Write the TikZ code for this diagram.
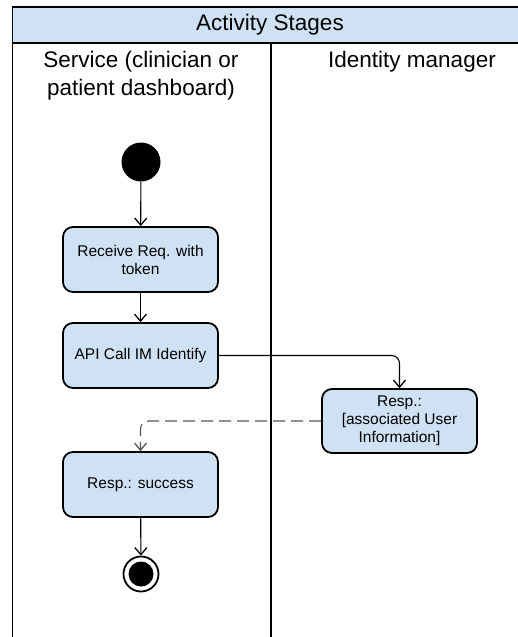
\documentclass[tikz,border=0pt]{standalone}
\usepackage{fontspec}
\setmainfont{Liberation Sans}
\usetikzlibrary{arrows.meta}
\definecolor{boxblue}{HTML}{CFE2F3}
\definecolor{dashgray}{HTML}{555555}
\tikzset{
  actbox/.style={draw=black, line width=1.8pt, fill=boxblue, rounded corners=10pt,
    minimum width=155pt, minimum height=65pt, align=center, inner sep=2pt,
    font=\fontsize{15.5pt}{18pt}\selectfont},
  lanetext/.style={align=center, font=\fontsize{22.5pt}{28pt}\selectfont, inner sep=0pt},
  arr/.style={line width=1.1pt, -{Straight Barb[length=7pt,width=12pt,line width=1.3pt]}},
  dasharr/.style={arr, dashgray, dash pattern=on 12pt off 6pt},
  frameline/.style={line width=1.6pt, draw=black}
}
\begin{document}
\begin{tikzpicture}[x=1pt, y=-1pt]
\useasboundingbox (0,0) rectangle (518,637);
\begin{scope}
\clip (0,0) rectangle (518,637);
% header
\fill[boxblue] (12.5,7) rectangle (560,43);
\draw[frameline] (12.5,660) -- (12.5,7) -- (560,7);
\draw[frameline] (12.5,43) -- (560,43);
\draw[frameline] (271,43) -- (271,660);
\end{scope}
\node[lanetext] (title) at (270,25) {Activity Stages};
\node[lanetext] (lane1) at (141,76) {Service (clinician or\\patient dashboard)};
\node[lanetext] (lane2) at (412,62) {Identity manager};
% nodes
\node[circle, fill=black, minimum size=39pt, inner sep=0pt] (start) at (141,162) {};
\node[actbox] (recv) at (140.5,259.5) {Receive Req. with\\token};
\node[actbox] (api) at (140.5,355.5) {API Call IM Identify};
\node[actbox, minimum height=64pt] (resp) at (399.5,421) {Resp.:\\{}[associated User\\Information]};
\node[actbox] (succ) at (140.5,484.5) {Resp.: success};
\node[circle, draw=black, line width=1.8pt, fill=white, minimum size=35pt, inner sep=0pt,
  path picture={\fill[black] (path picture bounding box.center) circle (12.5pt);}] (end) at (141,574) {};
% connectors
\draw[arr] (start) -- (recv);
\draw[arr] (recv) -- (api);
\draw[arr, rounded corners=8pt] (api.east) -| (resp.north);
\draw[dasharr, rounded corners=8pt] (resp.west) -| (succ.north);
\draw[arr] (succ) -- (end);
\end{tikzpicture}
\end{document}
